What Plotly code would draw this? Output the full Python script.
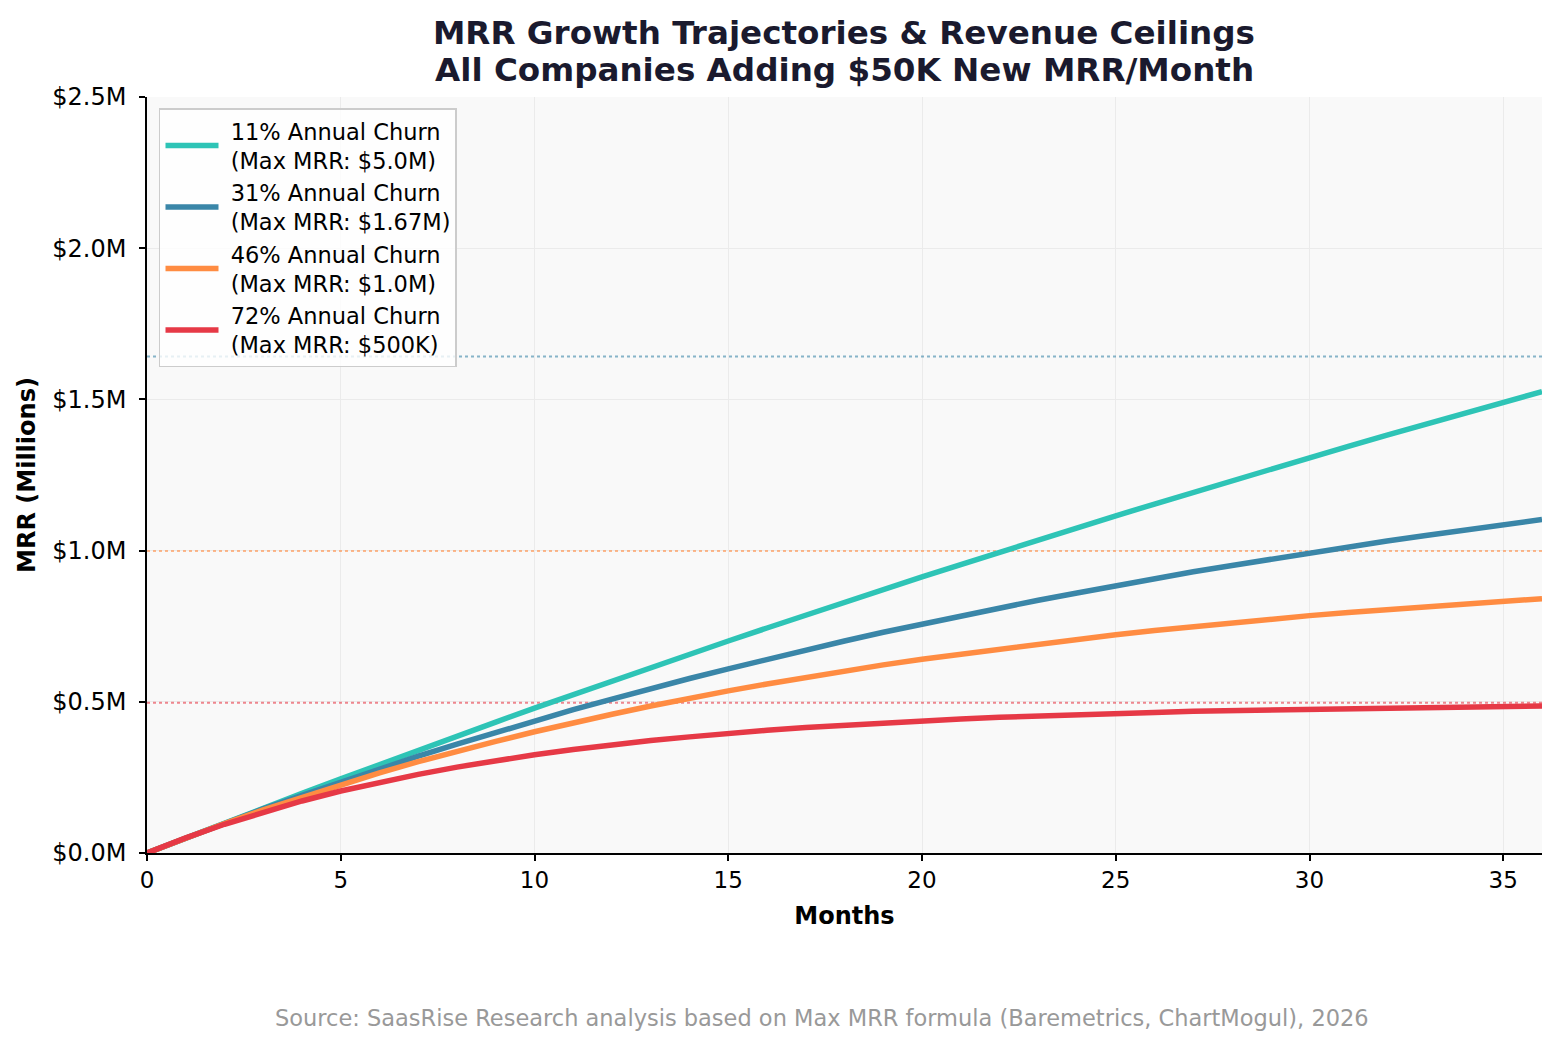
import plotly.graph_objects as go

months = list(range(0, 37))

NB = "\u00a0"
labels = [
    NB + "11% Annual Churn<br>" + NB + "(Max MRR: $5.0M)",
    NB + "31% Annual Churn<br>" + NB + "(Max MRR: $1.67M)",
    NB + "46% Annual Churn<br>" + NB + "(Max MRR: $1.0M)",
    NB + "72% Annual Churn<br>" + NB + "(Max MRR: $500K)",
]
colors = ["#2EC4B6", "#3A86A8", "#FF8C42", "#E63946"]
ceiling_colors = ["rgba(46,196,182,0.6)", "rgba(58,134,168,0.6)",
                  "rgba(255,140,66,0.6)", "rgba(230,57,70,0.6)"]

# MRR in millions
mrr_11 = [0, .050, .0995, .149, .197, .245, .293, .340, .387, .433, .479, .524, .569,
          .614, .658, .701, .744, .787, .830, .872, .913, .954, .995, 1.035, 1.075,
          1.115, 1.154, 1.193, 1.232, 1.270, 1.307, 1.345, 1.382, 1.418, 1.455, 1.491, 1.526]
mrr_31 = [0, .050, .0985, .146, .191, .235, .278, .320, .360, .399, .437, .474, .509,
          .544, .577, .609, .641, .671, .701, .730, .757, .784, .810, .836, .860,
          .884, .907, .930, .951, .972, .993, 1.013, 1.032, 1.050, 1.068, 1.086, 1.103]
mrr_46 = [0, .050, .0975, .143, .185, .226, .265, .302, .337, .369, .401, .431, .459,
          .486, .512, .536, .559, .581, .602, .622, .641, .658, .675, .692, .707,
          .722, .736, .749, .761, .773, .785, .795, .805, .815, .824, .833, .841]
mrr_72 = [0, .050, .095, .135, .172, .205, .234, .260, .284, .306, .325, .342, .358,
          .372, .384, .396, .406, .415, .423, .431, .437, .443, .449, .454, .458,
          .462, .465, .469, .471, .474, .476, .478, .480, .482, .483, .485, .486]
series = [mrr_11, mrr_31, mrr_46, mrr_72]

ceilings = [5.175, 1.642, 0.999, 0.497]

y_ticks = [0, 0.5, 1.0, 1.5, 2.0, 2.5]
y_tick_text = ["$0.0M", "$0.5M", "$1.0M", "$1.5M", "$2.0M", "$2.5M"]
x_ticks = [0, 5, 10, 15, 20, 25, 30, 35]

title_line1 = "MRR Growth Trajectories & Revenue Ceilings"
title_line2 = "All Companies Adding $50K New MRR/Month"

fig = go.Figure()

for c, cc in zip(ceilings, ceiling_colors):
    fig.add_trace(go.Scatter(
        x=[months[0], months[-1]], y=[c, c], mode="lines",
        line=dict(color=cc, width=2, dash="dot"),
        showlegend=False, hoverinfo="skip"))

for i, (vals, lab, col) in enumerate(zip(series, labels, colors)):
    fig.add_trace(go.Scatter(
        x=months, y=vals, mode="lines", name=lab,
        line=dict(color=col, width=5.5),
        legendgroup=f"g{i}"))

fig.update_layout(
    width=1560, height=1049,
    margin=dict(l=147, r=18, t=97, b=196),
    paper_bgcolor="white",
    plot_bgcolor="#F9F9F9",
    font=dict(family="DejaVu Sans", size=22, color="black"),
    title=dict(
        text="<b>" + title_line1 + "</b>",
        x=0.541, xanchor="center", yref="container", y=1 - 33 / 1049, yanchor="middle",
        font=dict(family="DejaVu Sans", size=32.6, color="#1A1A2E")),
    legend=dict(
        x=0.0086, y=0.985, xanchor="left", yanchor="top",
        bgcolor="rgba(255,255,255,0.8)", bordercolor="#CCCCCC", borderwidth=1.5,
        font=dict(family="DejaVu Sans", size=22.5, color="black"),
        tracegroupgap=0, itemwidth=53),
    showlegend=True,
)

fig.add_annotation(
    text="<b>" + title_line2 + "</b>",
    xref="paper", yref="paper", x=(844 - 147) / 1395, y=1 + 27 / 756,
    xanchor="center", yanchor="middle", showarrow=False,
    font=dict(family="DejaVu Sans", size=32.6, color="#1A1A2E"))

fig.update_xaxes(
    range=[0, 36], tickvals=x_ticks, ticks="outside", ticklen=6, tickwidth=1.5,
    tickcolor="black", showline=True, linecolor="black", linewidth=1.5,
    showgrid=True, gridcolor="#EBEBEB", gridwidth=1, zeroline=False,
    title=dict(text="<b>Months</b>", font=dict(size=24), standoff=15),
    tickfont=dict(size=23))

fig.update_yaxes(
    range=[0, 2.5], tickvals=y_ticks, ticktext=y_tick_text, ticks="outside",
    ticklen=6, tickwidth=1.5, tickcolor="black", showline=True,
    linecolor="black", linewidth=1.5, showgrid=True, gridcolor="#EBEBEB",
    gridwidth=1, zeroline=False, ticklabelstandoff=8,
    title=dict(text="<b>MRR (Millions)</b>", font=dict(size=24), standoff=10),
    tickfont=dict(size=24))

fig.add_annotation(
    text="Source: SaasRise Research analysis based on Max MRR formula (Baremetrics, ChartMogul), 2026",
    xref="paper", yref="paper", x=0.4839, y=-0.2183, xanchor="center", yanchor="middle",
    showarrow=False, font=dict(family="DejaVu Sans", size=22.5, color="#999999"))

fig.write_html("out.html")
